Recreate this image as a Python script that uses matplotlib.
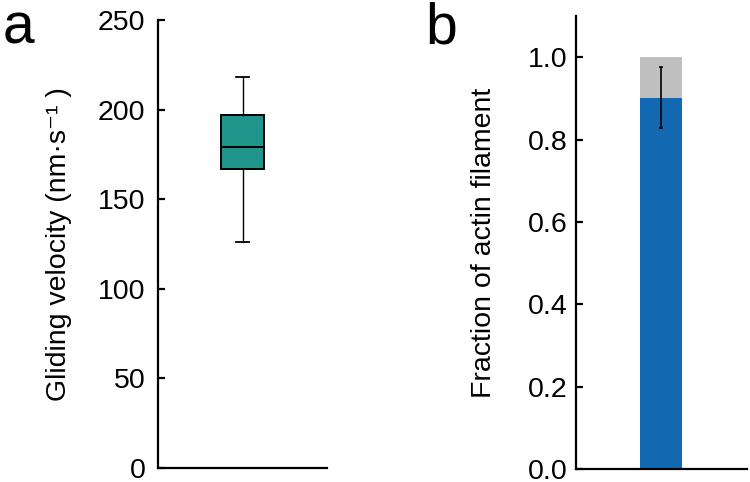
import matplotlib.pyplot as plt

plt.rcParams['font.family'] = ['Liberation Sans', 'DejaVu Sans']

# panel a: gliding velocity box summary (nm/s)
vel_whislo = 126
vel_q1 = 167
vel_med = 179
vel_q3 = 197
vel_whishi = 218

# panel b: fraction of actin filament
frac_main = 0.90
frac_rest = 0.10
frac_err_lo = 0.827
frac_err_hi = 0.975

teal = '#21958b'
blue = '#1469b3'
grey = '#c0c0c0'

fig = plt.figure(figsize=(7.5, 4.82), dpi=100)

# ---- panel a ----
ax1 = fig.add_axes([158/750, 14/482, 169/750, 448/482])
stats = [dict(med=vel_med, q1=vel_q1, q3=vel_q3, whislo=vel_whislo, whishi=vel_whishi, fliers=[])]
ax1.bxp(stats, positions=[0.5], widths=0.254, patch_artist=True, showfliers=False,
        boxprops=dict(facecolor=teal, edgecolor='black', linewidth=1.4),
        medianprops=dict(color='black', linewidth=1.4),
        whiskerprops=dict(color='black', linewidth=1.0),
        capprops=dict(color='black', linewidth=1.3),
        capwidths=0.077)
ax1.set_xlim(0, 1)
ax1.set_ylim(0, 250)
ax1.set_yticks([0, 50, 100, 150, 200, 250])
ax1.set_xticks([])
ax1.spines['top'].set_visible(False)
ax1.spines['right'].set_visible(False)
for s in ('left', 'bottom'):
    ax1.spines[s].set_linewidth(1.6)
ax1.tick_params(axis='y', direction='in', length=5, width=1.6, labelsize=20.5, pad=9)
ax1.set_ylabel('Gliding velocity (nm·s⁻¹ )', fontsize=20.5, labelpad=19)
fig.text(3/750, 1 - 43/482, 'a', fontsize=41, ha='left', va='baseline')

# ---- panel b ----
ax2 = fig.add_axes([576/750, 13/482, 171/750, 453/482])
ax2.bar([0.497], [frac_main], width=0.246, color=blue)
ax2.bar([0.497], [frac_rest], bottom=[frac_main], width=0.246, color=grey)
ax2.errorbar([0.497], [frac_main],
             yerr=[[frac_main - frac_err_lo], [frac_err_hi - frac_main]],
             fmt='none', ecolor='black', elinewidth=1.2, capsize=1.5, capthick=1.2)
ax2.set_xlim(0, 1)
ax2.set_ylim(0, 1.1)
ax2.set_yticks([0.0, 0.2, 0.4, 0.6, 0.8, 1.0])
ax2.set_xticks([])
ax2.spines['top'].set_visible(False)
ax2.spines['right'].set_visible(False)
for s in ('left', 'bottom'):
    ax2.spines[s].set_linewidth(1.6)
ax2.tick_params(axis='y', direction='in', length=5, width=1.6, labelsize=20.5, pad=6)
ax2.set_ylabel('Fraction of actin filament', fontsize=20.5, labelpad=22)
fig.text(425/750, 1 - 43/482, 'b', fontsize=41, ha='left', va='baseline')

fig.savefig('out.png', dpi=100)
